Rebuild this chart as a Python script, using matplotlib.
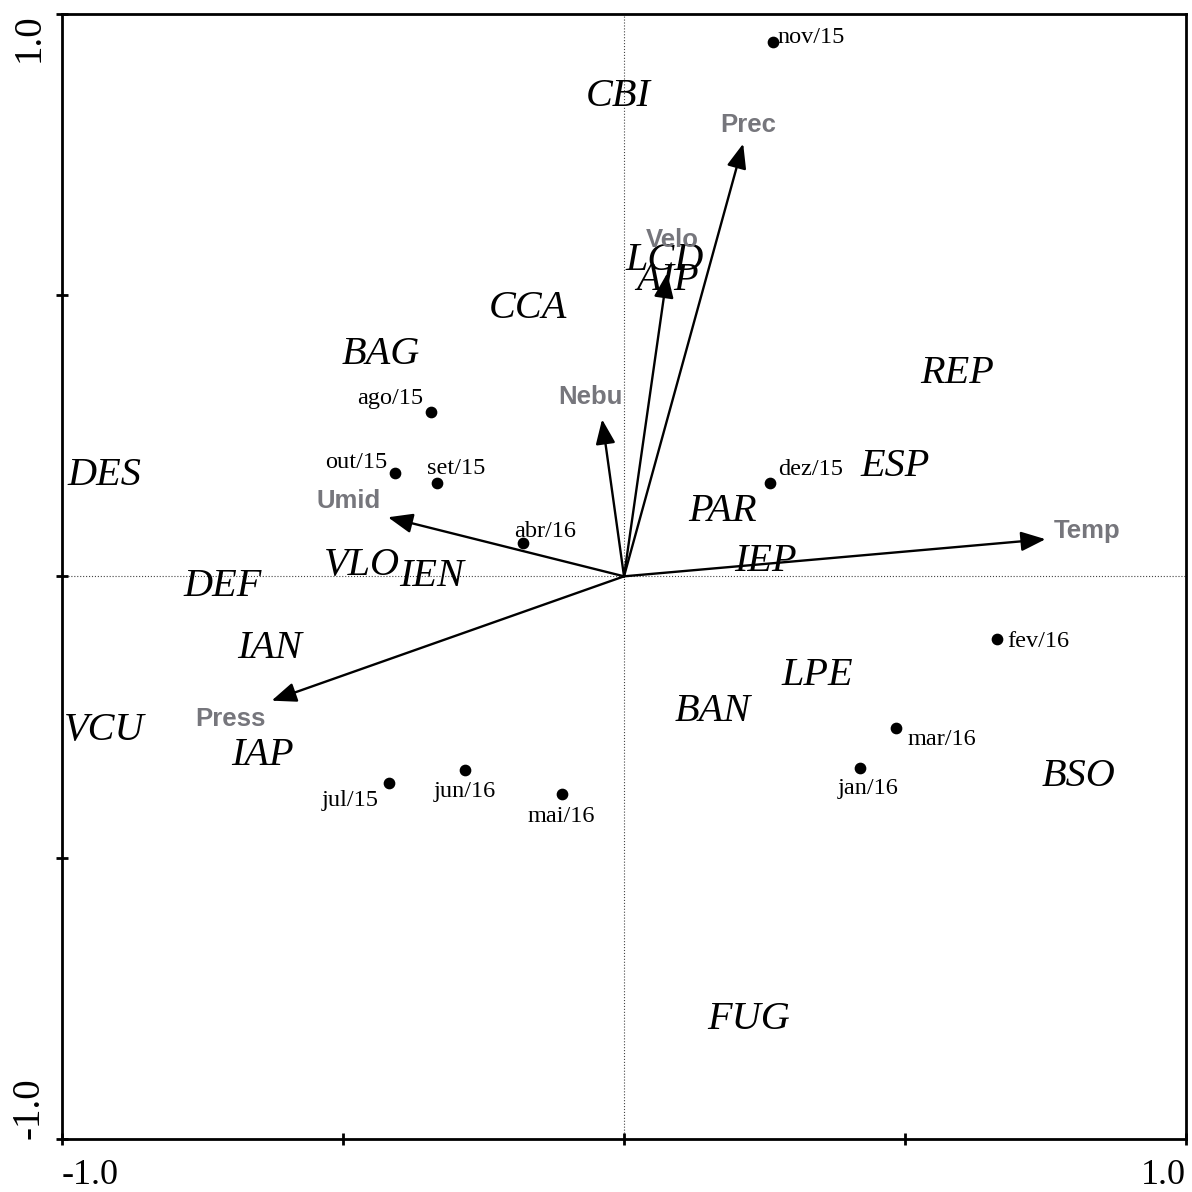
import numpy as np
import matplotlib.pyplot as plt

plt.rcParams['font.family'] = ['Liberation Serif', 'DejaVu Serif']

# species scores (axis 1, axis 2)
species = ['CBI', 'LCD', 'AIP', 'CCA', 'BAG', 'DES', 'DEF', 'VLO', 'IEN', 'REP',
           'ESP', 'PAR', 'IEP', 'IAN', 'IAP', 'VCU', 'LPE', 'BAN', 'BSO', 'FUG']
species_x = [-0.011, 0.073, 0.078, -0.171, -0.433, -0.924, -0.714, -0.467, -0.342, 0.593,
             0.483, 0.175, 0.251, -0.630, -0.644, -0.924, 0.344, 0.158, 0.808, 0.222]
species_y = [0.858, 0.566, 0.532, 0.482, 0.399, 0.185, -0.012, 0.025, 0.005, 0.365,
             0.201, 0.121, 0.032, -0.123, -0.313, -0.269, -0.171, -0.235, -0.351, -0.783]

# sampling months
months = ['nov/15', 'ago/15', 'out/15', 'set/15', 'abr/16', 'dez/15',
          'fev/16', 'mar/16', 'jan/16', 'jul/15', 'jun/16', 'mai/16']
months_x = [0.265, -0.344, -0.408, -0.333, -0.180, 0.260,
            0.663, 0.484, 0.420, -0.419, -0.283, -0.110]
months_y = [0.950, 0.292, 0.183, 0.165, 0.059, 0.165,
            -0.112, -0.270, -0.340, -0.368, -0.345, -0.386]

# environmental variables
env = ['Prec', 'Velo', 'Nebu', 'Umid', 'Temp', 'Press']
env_x = [0.212, 0.077, -0.039, -0.420, 0.750, -0.627]
env_y = [0.769, 0.539, 0.279, 0.105, 0.066, -0.221]

# label placement (pixels from the point / arrow tip)
month_offsets = {
    'nov/15': (5, 4, 'left'), 'ago/15': (-7, 14, 'right'), 'out/15': (-7, 11, 'right'),
    'set/15': (-10, 15, 'left'), 'abr/16': (-9, 12, 'left'), 'dez/15': (8, 14, 'left'),
    'fev/16': (11, -2, 'left'), 'mar/16': (11, -11, 'left'), 'jan/16': (8, -21, 'center'),
    'jul/15': (-10, -17, 'right'), 'jun/16': (0, -21, 'center'), 'mai/16': (-1, -23, 'center'),
}
env_offsets = {
    'Prec': (5, 19), 'Velo': (5, 33), 'Nebu': (-12, 22),
    'Umid': (-39, 16), 'Temp': (42, 8), 'Press': (-41, -18),
}

fig = plt.figure(figsize=(11.92, 11.92), dpi=100)
ax = fig.add_axes([0.052, 0.0445, 0.943, 0.944])
ax.set_xlim(-1, 1)
ax.set_ylim(-1, 1)

ax.axhline(0, color='#444444', lw=0.8, ls=':', zorder=1)
ax.axvline(0, color='#444444', lw=0.8, ls=':', zorder=1)

for name, x, y in zip(species, species_x, species_y):
    ax.annotate(name, (x, y), xytext=(0, -3), textcoords='offset pixels',
                fontsize=29, style='italic', ha='center', va='center', zorder=3)

ax.scatter(months_x, months_y, s=55, color='black', zorder=4)
for name, x, y in zip(months, months_x, months_y):
    dx, dy, ha = month_offsets[name]
    ax.annotate(name, (x, y), xytext=(dx, dy), textcoords='offset pixels',
                fontsize=17.5, ha=ha, va='center', zorder=4)

for name, x, y in zip(env, env_x, env_y):
    ax.annotate('', xy=(x, y), xytext=(0, 0),
                arrowprops=dict(arrowstyle='-|>,head_length=1.5,head_width=0.6',
                                mutation_scale=10, lw=1.7, color='black',
                                shrinkA=0, shrinkB=0), zorder=5)
    dx, dy = env_offsets[name]
    ax.annotate(name, (x, y), xytext=(dx, dy), textcoords='offset pixels',
                fontsize=18.5, fontweight='bold', color='#76767c',
                family=['Liberation Sans', 'DejaVu Sans'],
                ha='center', va='center', zorder=6)

for side in ['left', 'right', 'top', 'bottom']:
    ax.spines[side].set_linewidth(2)

ticks = [-1, -0.5, 0, 0.5, 1]
ax.set_xticks(ticks)
ax.set_yticks(ticks)
ax.set_xticklabels(['-1.0', '', '', '', '1.0'], fontsize=26)
ax.set_yticklabels(['-1.0', '', '', '', '1.0'], fontsize=28, rotation=90)
ax.tick_params(direction='inout', length=9, width=2)
ax.tick_params(axis='x', pad=10)
ax.tick_params(axis='y', pad=6)
xl = ax.get_xticklabels()
xl[0].set_horizontalalignment('left')
xl[-1].set_horizontalalignment('right')
yl = ax.get_yticklabels()
yl[0].set_verticalalignment('bottom')
yl[-1].set_verticalalignment('top')
for lab in yl:
    lab.set_horizontalalignment('right')

fig.savefig('out.png', dpi=100)
